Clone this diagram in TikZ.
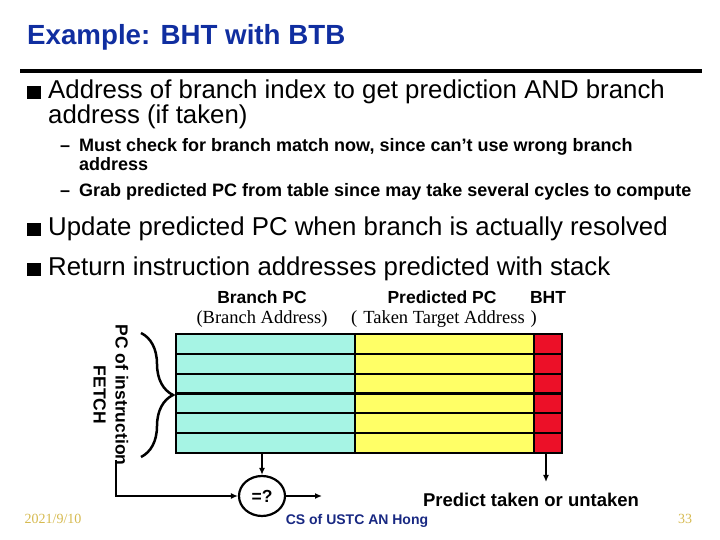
\documentclass[tikz,border=0pt]{standalone}
\usepackage{fontspec}
\setmainfont{Liberation Sans}
\newfontfamily\serifrm{Liberation Serif}
\usepackage{xcolor}
\usepackage{tikz}
\usetikzlibrary{arrows.meta,positioning,calc,shapes.geometric,decorations.pathreplacing}

\definecolor{titleblue}{RGB}{16,46,160}
\definecolor{cellcyan}{RGB}{166,244,228}
\definecolor{cellyellow}{RGB}{255,255,102}
\definecolor{cellred}{RGB}{236,16,40}
\definecolor{footgold}{RGB}{214,186,80}
\definecolor{footblue}{RGB}{24,40,130}

\begin{document}
\begin{tikzpicture}[x=1pt,y=1pt,
  big/.style={anchor=base west,inner sep=0pt,font=\fontsize{25.8}{30}\selectfont},
  small/.style={anchor=base west,inner sep=0pt,font=\fontsize{18}{21}\selectfont\bfseries},
  lbl/.style={inner sep=0pt,font=\fontsize{17.5}{22}\selectfont\bfseries},
  cell/.style={draw,line width=2.2pt,inner sep=0pt,outer sep=0pt,anchor=south west,minimum height=119pt},
  arr/.style={line width=2.2pt,-{Latex[length=7pt,width=6pt]}}]
\useasboundingbox (0,0) rectangle (720,540);

% Title and rule
\node[anchor=base west,inner sep=0pt,text=titleblue,font=\fontsize{27.7}{32}\selectfont\bfseries] (title) at (27,495) {Example: BHT with BTB};
\draw[line width=4.5pt] (20,469) -- (702,469);

% Bullets
\node[big] (b1) at (27,441) {\rule{14pt}{13pt}\hspace{7pt}Address of branch index to get prediction AND branch};
\node[big] (b1b) at (48,416) {address (if taken)};
\node[small] (s1) at (60,388) {\makebox[19pt][l]{–}Must check for branch match now, since can’t use wrong branch};
\node[small] (s1b) at (79,369) {address};
\node[small] (s2) at (60,343) {\makebox[19pt][l]{–}Grab predicted PC from table since may take several cycles to compute};
\node[big] (b2) at (27,304) {\rule{14pt}{13pt}\hspace{7pt}Update predicted PC when branch is actually resolved};
\node[big] (b3) at (27,264) {\rule{14pt}{13pt}\hspace{7pt}Return instruction addresses predicted with stack};

% Table: branch PC | predicted PC | BHT
\node[cell,fill=cellcyan,minimum width=179pt] (bpc) at (176,87) {};
\node[cell,fill=cellyellow,minimum width=179pt] (ppc) at (355,87) {};
\node[cell,fill=cellred,minimum width=28pt] (bht) at (534,87) {};
\foreach \i in {1,...,5}
  \draw[line width=2.2pt] (176,{87+\i*19.83}) -- (562,{87+\i*19.83});

% Column headers
\node[lbl] (hbpc) at (262,243) {Branch PC};
\node[inner sep=0pt,font=\serifrm\fontsize{18.5}{22}\selectfont] (abpc) at (262,221) {(Branch Address)};
\node[lbl] (hppc) at (442,243) {Predicted PC};
\node[inner sep=0pt,font=\serifrm\fontsize{18.5}{22}\selectfont] (appc) at (444,221) {(\hspace{6pt}Taken Target Address\hspace{6pt})};
\node[lbl] (hbht) at (548,243) {BHT};

% PC of instruction fetch
\draw[line width=2.5pt,decorate,decoration={brace,amplitude=32pt}] (141,207) -- (141,83);
\node[lbl,rotate=-90,align=center] (fetch) at (111,145) {PC of instruction\\FETCH};

% Compare
\node[draw,ellipse,line width=2.2pt,minimum width=46pt,minimum height=40pt,inner sep=0pt,font=\fontsize{17.5}{20}\selectfont\bfseries] (cmp) at (262,44) {=?};
\coordinate (pcin) at (116,80);
\coordinate (hit) at (322,44);
\draw[arr] (cmp |- bpc.south) -- (cmp);
\draw[arr] (pcin) |- (cmp.west);
\draw[arr] (cmp.east) -- (hit);

% Prediction
\coordinate (predout) at (546,58);
\draw[arr] (predout |- bht.south) -- (predout);
\node[lbl,font=\fontsize{18.5}{22}\selectfont\bfseries] (pred) at (531,40) {Predict taken or untaken};

% Footer
\node[inner sep=0pt,text=footgold,font=\serifrm\fontsize{14}{16}\selectfont] (date) at (53,21) {2021/9/10};
\node[inner sep=0pt,text=footblue,font=\fontsize{14}{16}\selectfont\bfseries] (foot) at (357,19) {CS of USTC AN Hong};
\node[inner sep=0pt,text=footgold,font=\serifrm\fontsize{14}{16}\selectfont] (page) at (685,21) {33};
\end{tikzpicture}
\end{document}
